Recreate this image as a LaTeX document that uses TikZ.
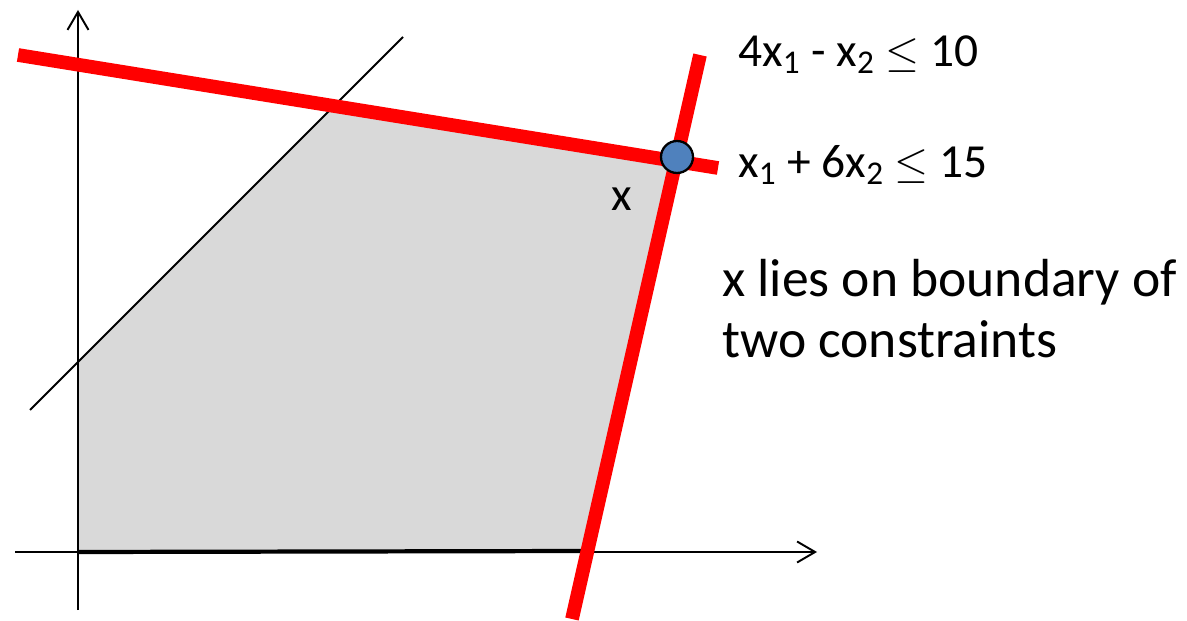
\documentclass[tikz,border=0pt]{standalone}
\usepackage{fontspec}
\setmainfont{Carlito}
\usetikzlibrary{arrows.meta}
\definecolor{regiongray}{HTML}{D9D9D9}
\definecolor{ptblue}{HTML}{4F81BD}
\definecolor{cred}{HTML}{FF0000}
\tikzset{
  axisline/.style={line width=1.1pt, -{Straight Barb[length=0.36cm,width=0.42cm,line width=1.1pt]}},
  thinline/.style={line width=1.1pt},
  constraint/.style={line width=7.8pt, cred},
  eqlbl/.style={anchor=base west, inner sep=0pt, font=\fontsize{27}{32}\selectfont},
  txtlbl/.style={anchor=base west, inner sep=0pt, font=\fontsize{30.5}{36}\selectfont},
}
\begin{document}
\begin{tikzpicture}[x=0.02cm,y=-0.02cm]
\useasboundingbox (0,0) rectangle (1187,621);
% coordinates
\coordinate (O) at (78,552);
\coordinate (ytop) at (78,10);
\coordinate (ybot) at (78,610);
\coordinate (xl) at (15,552);
\coordinate (xr) at (817,552);
\coordinate (d1) at (30,410);
\coordinate (d2) at (403,37);
\coordinate (r1a) at (18,55);
\coordinate (r1b) at (718,168);
\coordinate (r2a) at (700,55);
\coordinate (r2b) at (572,619);
\coordinate (P) at (677,157);
\coordinate (A) at (78,362);
\coordinate (B) at (334,106);
\coordinate (C) at (587,551);
% feasible region
\fill[regiongray] (O) -- (A) -- (B) -- (P) -- (C) -- cycle;
% axes
\draw[axisline] (ybot) -- (ytop);
\draw[axisline] (xl) -- (xr);
\draw[line width=2.4pt] (O) -- (C);
% third constraint
\draw[thinline] (d1) -- (d2);
% red constraints
\draw[constraint] (r1a) -- (r1b);
\draw[constraint] (r2a) -- (r2b);
% vertex
\node[circle, draw=black, line width=1.3pt, fill=ptblue, minimum size=0.64cm, inner sep=0pt] (vx) at (P) {};
% labels
\node[eqlbl] (c1) at (738,67) {4x\textsubscript{1} - x\textsubscript{2} $\leq$ 10};
\node[eqlbl] (c2) at (738,178) {x\textsubscript{1} + 6x\textsubscript{2} $\leq$ 15};
\node[eqlbl] (xl1) at (611,211) {x};
\node[txtlbl] (t1) at (722,297) {x lies on boundary of};
\node[txtlbl] (t2) at (722,358) {two constraints};
\end{tikzpicture}
\end{document}
